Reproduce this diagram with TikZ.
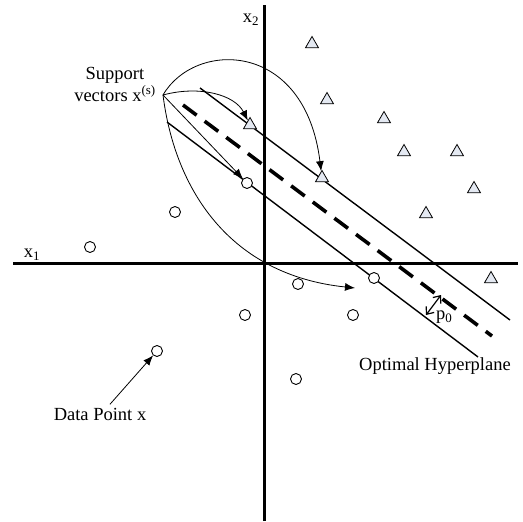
\documentclass[tikz,border=0pt]{standalone}
\usepackage{fontspec}
\setmainfont{Liberation Serif}
\usetikzlibrary{shapes.geometric,arrows.meta}
\definecolor{trifill}{HTML}{E4E9F2}
\begin{document}
\begin{tikzpicture}[x=1pt,y=-1pt,
  every node/.style={font=\fontsize{18.5}{22}\selectfont},
  axis/.style={line width=3pt},
  margin/.style={line width=1.4pt},
  hyper/.style={line width=3.6pt, dash pattern=on 17pt off 10pt},
  thinline/.style={line width=0.8pt},
  pt/.style={circle, draw, line width=0.9pt, minimum size=11pt, inner sep=0pt, fill=white},
  tri/.style={regular polygon, regular polygon sides=3, draw, line width=0.8pt, minimum size=15pt, inner sep=0pt, fill=trifill},
  sv/.style={thinline, -{Latex[length=10pt,width=8pt]}},
  p0arrow/.style={line width=1.2pt, {Straight Barb[length=6pt,width=10pt]}-{Straight Barb[length=6pt,width=10pt]}},
]
\useasboundingbox (0,0) rectangle (523,522);

% axes
\coordinate (yb) at (264,521);
\coordinate (yt) at (264,5);
\coordinate (xl) at (13,263);
\coordinate (xr) at (518,263);
\draw[axis] (xl) -- (xr);
\draw[axis] (yb) -- (yt);
\node (x1) at (32,255) {x\textsubscript{1}};
\node (x2) at (251,20) {x\textsubscript{2}};

% margins and hyperplane
\coordinate (u1) at (200,88);
\coordinate (u2) at (510,320);
\coordinate (h1) at (183,105);
\coordinate (h2) at (492,336);
\coordinate (l1) at (167,122);
\coordinate (l2) at (478,357);
\draw[margin] (u1) -- (u2);
\draw[margin] (l1) -- (l2);
\draw[hyper] (h1) -- (h2);

% triangles
\node[tri] (t1) at (312,44) {};
\node[tri] (t2) at (327,100) {};
\node[tri] (t3) at (384,119) {};
\node[tri] (t4) at (404,152) {};
\node[tri] (t5) at (457,152) {};
\node[tri] (t6) at (474,189) {};
\node[tri] (t7) at (426,214) {};
\node[tri] (t8) at (322,178) {};
\node[tri] (t9) at (250,125) {};
\node[tri] (t10) at (491,279) {};

% circles
\node[pt] (c1) at (90,247) {};
\node[pt] (c2) at (175,212) {};
\node[pt] (c3) at (247,183) {};
\node[pt] (c4) at (298,284) {};
\node[pt] (c5) at (374,278) {};
\node[pt] (c6) at (353,315) {};
\node[pt] (c7) at (296,379) {};
\node[pt] (c8) at (245,315) {};
\node[pt] (c9) at (157,351) {};

% support vectors label and arrows
\node[align=center] (svl) at (115,84) {Support\\vectors x\textsuperscript{(s)}};
\coordinate (A) at (163,95);
\draw[sv] (A) .. controls (195,40) and (305,40) .. (t8);
\draw[sv] (A) .. controls (200,85) and (235,95) .. (t9);
\draw[sv] (A) -- (c3);
\draw[sv] (A) .. controls (175,190) and (230,275) .. (355,288);

% data point
\node (dp) at (100,414) {Data Point x};
\draw[sv] ([xshift=10pt]dp.north) -- (c9);

% hyperplane label and p0
\node (oh) at (435,366) {Optimal Hyperplane};
\coordinate (p0a) at (426,315);
\coordinate (p0b) at (441,295);
\draw[p0arrow] (p0a) -- (p0b);
\node[anchor=west, inner sep=0pt] (p0) at (436,317) {p\textsubscript{0}};
\end{tikzpicture}
\end{document}
